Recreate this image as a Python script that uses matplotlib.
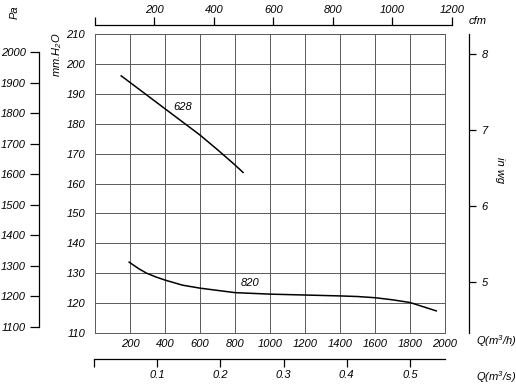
import matplotlib
matplotlib.use("Agg")
import matplotlib.pyplot as plt

plt.rcParams['font.family'] = ['Liberation Sans', 'DejaVu Sans']
plt.rcParams['font.style'] = 'italic'
plt.rcParams['mathtext.fontset'] = 'custom'
plt.rcParams['mathtext.rm'] = 'Liberation Sans:italic'
plt.rcParams['mathtext.it'] = 'Liberation Sans:italic'

# Data (Q in m3/h, pressure in mm H2O)
q_628 = [150, 300, 400, 500, 600, 700, 800, 846]
p_628 = [196.0, 189.4, 185.0, 180.6, 176.2, 171.3, 166.2, 163.7]
q_820 = [195, 250, 295, 350, 400, 500, 600, 800, 1000, 1200, 1400, 1500, 1600, 1700, 1800, 1950]
p_820 = [133.7, 131.5, 130.0, 128.7, 127.7, 126.0, 125.0, 123.5, 123.0, 122.7, 122.4, 122.2, 121.8, 121.1, 120.2, 117.4]
curve_labels = ["628", "820"]

x_ticks = [200, 400, 600, 800, 1000, 1200, 1400, 1600, 1800, 2000]
y_ticks = [110, 120, 130, 140, 150, 160, 170, 180, 190, 200, 210]
pa_ticks = [1100, 1200, 1300, 1400, 1500, 1600, 1700, 1800, 1900, 2000]
inwg_ticks = [5, 6, 7, 8]
cfm_ticks = [0, 200, 400, 600, 800, 1000, 1200]
m3s_ticks = [0, 0.1, 0.2, 0.3, 0.4, 0.5]

FS = 8
W, H = 516, 384
fig = plt.figure(figsize=(W / 100, H / 100), dpi=100)

def px_rect(x0, y0, x1, y1):
    return [x0 / W, 1 - y1 / H, (x1 - x0) / W, (y1 - y0) / H]

XL, XR, YT, YB = 95, 445, 34, 333
ax = fig.add_axes(px_rect(XL, YT, XR, YB))
ax.set_xlim(0, 2000)
ax.set_ylim(110, 210)
ax.set_xticks(x_ticks)
ax.set_yticks(y_ticks)
ax.grid(True, color='#5a5a5a', lw=0.7)
for s in ax.spines.values():
    s.set_color('#5a5a5a')
    s.set_linewidth(0.7)
ax.tick_params(length=0, labelsize=FS)
ax.tick_params(axis='y', pad=7)
ax.tick_params(axis='x', pad=4)

ax.plot(q_628, p_628, color='black', lw=1.1)
ax.plot(q_820, p_820, color='black', lw=1.1)
ax.text(503, 185.6, curve_labels[0], fontsize=FS, ha='center', va='center')
ax.text(886, 126.7, curve_labels[1], fontsize=FS, ha='center', va='center')

# Top cfm axis
cfm_per_m3h = 1 / 1.699
x_cfm_right = XL + 1200 / cfm_per_m3h * (XR - XL) / 2000
axt = fig.add_axes(px_rect(XL, 25, x_cfm_right, 25))
axt.set_xlim(0, 1200)
axt.set_ylim(0, 1)
for k in ['left', 'right', 'bottom']:
    axt.spines[k].set_visible(False)
axt.spines['top'].set_linewidth(0.9)
axt.patch.set_visible(False)
axt.set_yticks([])
axt.xaxis.set_ticks_position('top')
axt.set_xticks(cfm_ticks)
axt.set_xticklabels([''] + [str(v) for v in cfm_ticks[1:]])
axt.tick_params(axis='x', direction='out', length=6, width=0.9, pad=1, labelsize=FS)

# Bottom m3/s axis
axb = fig.add_axes(px_rect(XL - 1, 359, XR, 359))
axb.set_xlim(0, 2000 / 3600)
axb.set_ylim(0, 1)
for k in ['left', 'right', 'top']:
    axb.spines[k].set_visible(False)
axb.spines['bottom'].set_linewidth(0.9)
axb.patch.set_visible(False)
axb.set_yticks([])
axb.set_xticks(m3s_ticks)
axb.set_xticklabels([''] + [str(v) for v in m3s_ticks[1:]])
axb.tick_params(axis='x', direction='out', length=6, width=0.9, pad=2, labelsize=FS)

# Left Pa axis
axl = fig.add_axes(px_rect(39, YT, 39, YB))
axl.set_ylim(110 * 9.80665, 210 * 9.80665)
axl.set_xlim(0, 1)
for k in ['top', 'right', 'bottom']:
    axl.spines[k].set_visible(False)
axl.spines['left'].set_linewidth(0.9)
axl.spines['left'].set_bounds(1100, 2000)
axl.patch.set_visible(False)
axl.set_xticks([])
axl.set_yticks(pa_ticks)
axl.tick_params(axis='y', direction='out', length=6.5, width=0.9, pad=3, labelsize=FS)

# Right in wg axis
axr = fig.add_axes(px_rect(469, YT, 469, YB))
axr.set_ylim(110 / 25.4, 210 / 25.4)
axr.set_xlim(0, 1)
for k in ['top', 'left', 'bottom']:
    axr.spines[k].set_visible(False)
axr.spines['right'].set_linewidth(0.9)
axr.patch.set_visible(False)
axr.set_xticks([])
axr.yaxis.set_ticks_position('right')
axr.set_yticks(inwg_ticks)
axr.tick_params(axis='y', direction='out', length=5, width=0.9, pad=4, labelsize=FS)

def ftext(x, y, s, **kw):
    fig.text(x / W, 1 - y / H, s, fontsize=FS, **kw)

ftext(15, 12, 'Pa', rotation=90, ha='center', va='center')
ftext(57, 55, r'mm.H$_2$O', rotation=90, ha='center', va='center')
ftext(478, 21, 'cfm', ha='center', va='center')
ftext(500, 170, 'in wg', rotation=-90, ha='center', va='center')
ftext(496, 341, r'Q(m$^3$/h)', ha='center', va='center')
ftext(496, 377, r'Q(m$^3$/s)', ha='center', va='center')

fig.savefig('out.png', dpi=100)
